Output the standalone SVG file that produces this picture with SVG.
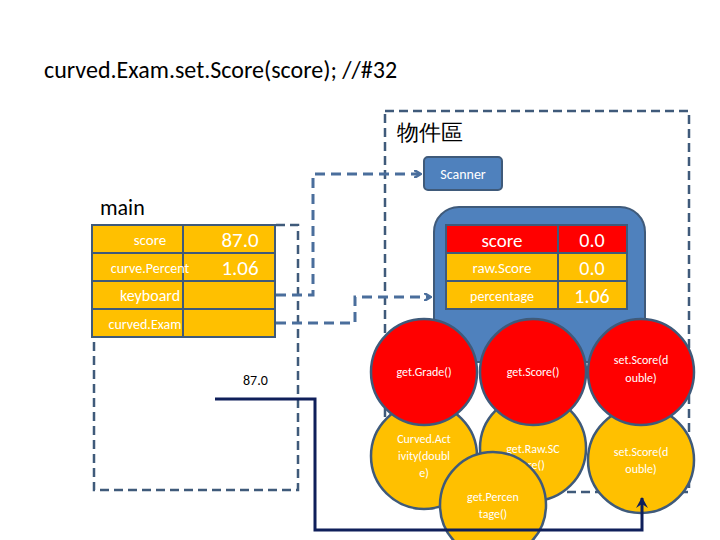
<svg xmlns="http://www.w3.org/2000/svg" width="720" height="540" viewBox="0 0 720 540">
<style>
text{font-family:Calibri,"Liberation Sans",sans-serif}
.cell{fill:#ffc000;stroke:#3f5a7a;stroke-width:2}
.red{fill:#ff0000;stroke:#3f5a7a;stroke-width:2}
.w{fill:#fff;text-anchor:middle}
.dash{fill:none;stroke:#4a6e9c;stroke-width:3;stroke-dasharray:10,6}
.frame{fill:none;stroke:#3f5a7a;stroke-width:2.5;stroke-dasharray:9,5}
.cir{stroke:#3f5a7a;stroke-width:2.5}
</style>
<defs>
<marker id="a" markerWidth="8" markerHeight="8" refX="6" refY="4" orient="auto" markerUnits="userSpaceOnUse"><path d="M0,0 L7,4 L0,8" fill="none" stroke="#4a6e9c" stroke-width="2.5"/></marker>
<marker id="n" markerWidth="14" markerHeight="14" refX="10" refY="7" orient="auto" markerUnits="userSpaceOnUse"><path d="M0,1 L11,7 L0,13 L4,7z" fill="#0f1f5a"/></marker>
</defs>
<rect width="720" height="540" fill="#fff"/>
<text x="44" y="78" font-size="24">curved.Exam.set.Score(score); //#32</text>
<text x="397" y="140" font-size="22" font-family="'Noto Sans CJK TC',sans-serif">物件區</text>
<rect id="objarea" class="frame" x="385" y="111" width="304" height="381"/>
<g id="scanner"><rect x="424" y="157" width="78" height="33" rx="4" fill="#4f81bd" stroke="#3f5a7a" stroke-width="2"/><text class="w" x="463" y="179" font-size="14">Scanner</text></g>
<text x="100" y="215" font-size="22">main</text>
<path id="mainframe" class="frame" d="M276,225 H298 V490 H94 V337"/>
<g id="main">
<rect class="cell" x="92" y="225" width="91" height="28"/><rect class="cell" x="183" y="225" width="92" height="28"/>
<rect class="cell" x="92" y="253" width="91" height="28"/><rect class="cell" x="183" y="253" width="92" height="28"/>
<rect class="cell" x="92" y="281" width="91" height="28"/><rect class="cell" x="183" y="281" width="92" height="28"/>
<rect class="cell" x="92" y="309" width="91" height="28"/><rect class="cell" x="183" y="309" width="92" height="28"/>
<text class="w" x="150" y="245" font-size="15">score</text><text class="w" x="240" y="247" font-size="21">87.0</text>
<text class="w" x="150" y="273" font-size="14">curve.Percent</text><text class="w" x="240" y="275" font-size="21">1.06</text>
<text class="w" x="150" y="301" font-size="16">keyboard</text>
<text class="w" x="145" y="329" font-size="14">curved.Exam</text>
</g>
<g id="object">
<rect x="434" y="207" width="211" height="155" rx="25" fill="#4f81bd" stroke="#3f5a7a" stroke-width="2"/>
<rect class="red" x="446" y="225" width="112" height="28"/><rect class="red" x="558" y="225" width="69" height="28"/>
<rect class="cell" x="446" y="253" width="112" height="28"/><rect class="cell" x="558" y="253" width="69" height="28"/>
<rect class="cell" x="446" y="281" width="112" height="28"/><rect class="cell" x="558" y="281" width="69" height="28"/>
<text class="w" x="502" y="247" font-size="19">score</text><text class="w" x="592" y="247" font-size="20">0.0</text>
<text class="w" x="502" y="273" font-size="15">raw.Score</text><text class="w" x="592" y="275" font-size="20">0.0</text>
<text class="w" x="502" y="301" font-size="14">percentage</text><text class="w" x="592" y="303" font-size="20">1.06</text>
</g>
<g id="methods" font-size="12">
<g><circle class="cir" cx="424" cy="456" r="53" fill="#ffc000"/><text class="w" x="424" y="443">Curved.Act</text><text class="w" x="424" y="460">ivity(doubl</text><text class="w" x="424" y="477">e)</text></g>
<g><circle class="cir" cx="533" cy="448" r="53" fill="#ffc000"/><text class="w" x="533" y="453">get.Raw.SC</text><text class="w" x="533" y="469">ore()</text></g>
<g><circle class="cir" cx="641" cy="460" r="53" fill="#ffc000"/><text class="w" x="641" y="456">set.Score(d</text><text class="w" x="641" y="473">ouble)</text></g>
<g><circle class="cir" cx="424" cy="372" r="53" fill="#ff0000"/><text class="w" x="424" y="376">get.Grade()</text></g>
<g><circle class="cir" cx="533" cy="372" r="53" fill="#ff0000"/><text class="w" x="533" y="376">get.Score()</text></g>
<g><circle class="cir" cx="641" cy="372" r="53" fill="#ff0000"/><text class="w" x="641" y="364">set.Score(d</text><text class="w" x="641" y="382">ouble)</text></g>
<g><circle class="cir" cx="493" cy="505" r="53" fill="#ffc000"/><text class="w" x="493" y="501">get.Percen</text><text class="w" x="493" y="518">tage()</text></g>
</g>
<g id="connectors">
<path class="dash" d="M276,295 H313 V174 H420" marker-end="url(#a)"/>
<path class="dash" d="M276,323 H355 V297 H430" marker-end="url(#a)"/>
<path d="M215,399 H315 V530 H642 V498" fill="none" stroke="#0f1f5a" stroke-width="3" marker-end="url(#n)"/>
</g>
<text x="243" y="385" font-size="14" font-family="'Liberation Sans',sans-serif">87.0</text>
</svg>
